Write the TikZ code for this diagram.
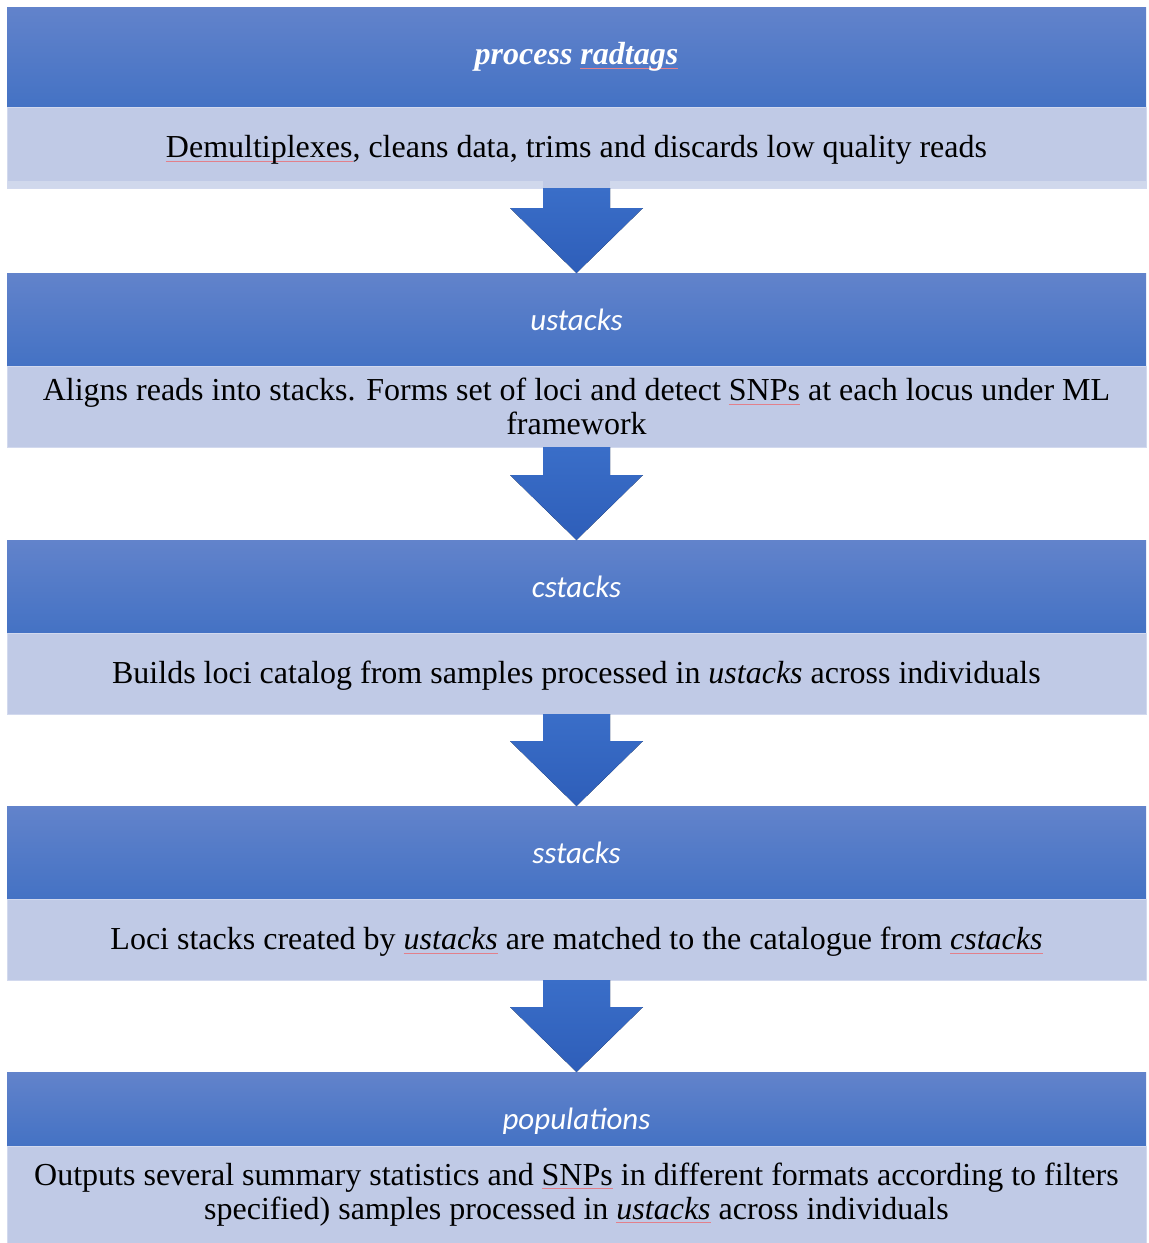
\documentclass[tikz,border=0pt]{standalone}
\usepackage{fontspec}
\setmainfont{Liberation Serif}
\newfontfamily\hdrfont{Carlito}
\usetikzlibrary{calc}

\definecolor{hdrtop}{HTML}{6283CB}
\definecolor{hdrbot}{HTML}{4472C4}
\definecolor{bodyfill}{HTML}{C0CAE6}
\definecolor{bodyedge}{HTML}{D2D9EE}
\definecolor{stripfill}{HTML}{D0D8EC}
\definecolor{arrtop}{HTML}{3A6EC8}
\definecolor{arrbot}{HTML}{2E5EB9}
\definecolor{spellred}{HTML}{E2808B}

% faint red spell-check underline
\newsavebox\spellbox
\newcommand\spellmark[1]{\sbox\spellbox{#1}%
  \rlap{\textcolor{spellred}{\rule[-4pt]{\wd\spellbox}{0.9pt}}}\usebox\spellbox}

\tikzset{
  hdr/.style={anchor=north west, inner sep=0pt, outer sep=0pt,
    minimum width=1139pt, top color=hdrtop, bottom color=hdrbot,
    text=white, font=\hdrfont\itshape\fontsize{31}{34}\selectfont},
  bodybox/.style={anchor=north west, inner sep=0pt, outer sep=0pt,
    minimum width=1139pt, fill=bodyfill, draw=bodyedge, line width=1pt,
    align=center, text=black, font=\fontsize{32}{34}\selectfont},
  oneline/.style={text height=27pt, text depth=7pt},
  flowarrow/.style={top color=arrtop, bottom color=arrbot, draw=none}
}

\newcommand\flowdown[2]{%
  \fill[flowarrow] ($(#1.south)+(-33.5,0)$) -- ($(#2.north)+(-33.5,-65)$)
    -- ($(#2.north)+(-66.5,-65)$) -- (#2.north) -- ($(#2.north)+(66.5,-65)$)
    -- ($(#2.north)+(33.5,-65)$) -- ($(#1.south)+(33.5,0)$) -- cycle;}

\begin{document}
\begin{tikzpicture}[x=1pt, y=-1pt]
\useasboundingbox (0,0) rectangle (1149,1243);

% process radtags
\node[hdr, minimum height=100pt, font=\bfseries\itshape\fontsize{32}{34}\selectfont] (h1) at (7,7)
  {process \spellmark{radtags}};
\node[bodybox, oneline, minimum height=81pt] (b1) at (7,107)
  {\spellmark{Demultiplexes}, cleans data, trims and discards low quality reads};
\fill[stripfill] (7.5,181) rectangle (543,187.5);
\fill[stripfill] (610,181) rectangle (1145.5,187.5);

% ustacks
\node[hdr, minimum height=93pt] (h2) at (7,273) {ustacks};
\node[bodybox, minimum height=81pt] (b2) at (7,366)
  {Aligns reads into stacks. Forms set of loci and detect \spellmark{SNPs} at each locus under ML\\framework};

% cstacks
\node[hdr, minimum height=93pt] (h3) at (7,540) {cstacks};
\node[bodybox, oneline, minimum height=81pt] (b3) at (7,633)
  {Builds loci catalog from samples processed in \textit{ustacks} across individuals};

% sstacks
\node[hdr, minimum height=93pt] (h4) at (7,806) {sstacks};
\node[bodybox, oneline, minimum height=81pt] (b4) at (7,899)
  {Loci stacks created by \textit{\spellmark{ustacks}} are matched to the catalogue from \textit{\spellmark{cstacks}}};

% populations
\node[hdr, minimum height=74pt, text height=48pt, text depth=7pt] (h5) at (7,1072) {populations};
\node[bodybox, minimum height=97pt] (b5) at (7,1146)
  {Outputs several summary statistics and \spellmark{SNPs} in different formats according to filters\\
   specified) samples processed in \textit{\spellmark{ustacks}} across individuals};

% connectors between stages
\flowdown{b1}{h2}
\flowdown{b2}{h3}
\flowdown{b3}{h4}
\flowdown{b4}{h5}
\end{tikzpicture}
\end{document}
